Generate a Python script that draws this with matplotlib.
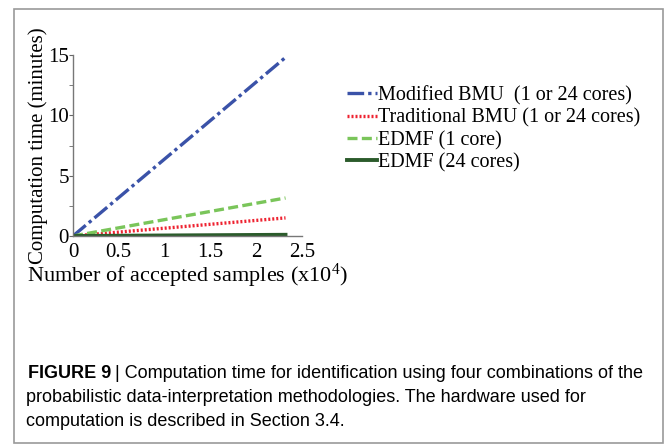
import numpy as np
import matplotlib
matplotlib.use("Agg")
from matplotlib import pyplot as plt
from matplotlib.patches import Rectangle

plt.rcParams['font.family'] = ['Liberation Serif', 'DejaVu Serif']
plt.rcParams['mathtext.fontset'] = 'custom'
plt.rcParams['mathtext.rm'] = 'Liberation Serif'
plt.rcParams['mathtext.it'] = 'Liberation Serif'

# samples (x10^4) and computation time (minutes)
samples = [0, 2.32]
modified_bmu = [0, 14.8]
traditional_bmu = [0, 1.5]
edmf_1 = [0, 3.15]
edmf_24 = [0, 0.1]

labels = ['Modified BMU  (1 or 24 cores)', 'Traditional BMU (1 or 24 cores)',
          'EDMF (1 core)', 'EDMF (24 cores)']

fig = plt.figure(figsize=(6.68, 4.46), dpi=100)

# outer frame
fig.patches.append(Rectangle((14/668, 3/446), 649/668, 434/446, transform=fig.transFigure,
                             fill=False, edgecolor='#9a9a9a', linewidth=1.2))

ax = fig.add_axes([73/668, 1-236/446, 229/668, 181/446])

h1, = ax.plot(samples, modified_bmu, color='#3a52a8', lw=2.4, linestyle=(0, (5, 1.2, 1, 1.2)))
h2, = ax.plot(samples, traditional_bmu, color='#ee2230', lw=2.4, linestyle=(0, (0.6, 0.6)))
h3, = ax.plot(samples, edmf_1, color='#7ac55a', lw=2.4, linestyle=(0, (3, 1.3)))
h4, = ax.plot(samples, edmf_24, color='#2b5b2b', lw=2.8, linestyle='-')

ax.set_xlim(0, 2.5)
ax.set_ylim(0, 15)
ax.set_xticks([0, 0.5, 1, 1.5, 2, 2.5])
ax.set_xticklabels(['0', '0.5', '1', '1.5', '2', '2.5'])
ax.set_yticks([0, 5, 10, 15])
ax.set_yticks([2.5, 7.5, 12.5], minor=True)
ax.tick_params(axis='y', which='both', direction='out', length=3, color='#666666',
               labelsize=15, pad=0)
ax.tick_params(axis='x', length=0, labelsize=15, pad=5)
for s in ['top', 'right']:
    ax.spines[s].set_visible(False)
for s in ['left', 'bottom']:
    ax.spines[s].set_color('#777777')
    ax.spines[s].set_linewidth(1.0)
ax.patch.set_alpha(0)

ax.set_ylabel('Computation time (minutes)', fontsize=15)
ax.yaxis.set_label_coords(-25/229, 0.5)
fig.text(27/668, 1-276/446, 'Number of accepted samples (x10$^{4}$)', fontsize=16,
         ha='left', va='center')

fig.legend([h1, h2, h3, h4], labels, loc='upper left',
           bbox_to_anchor=(339/668, 1-78/446), frameon=False, fontsize=14.5,
           handlelength=1.5, handletextpad=0.05, labelspacing=0.15, borderaxespad=0)

# caption
bold = fig.text(28/668, 1-373/446, 'FIGURE 9', fontsize=13, va='center', ha='left',
                family='Liberation Sans', weight='bold')
r = fig.canvas.get_renderer()
bx = bold.get_window_extent(r).x1
cap = ['| Computation time for identification using four combinations of the',
       'probabilistic data-interpretation methodologies. The hardware used for',
       'computation is described in Section 3.4.']
fig.text((bx + 4)/668, 1-373/446, cap[0], fontsize=13, va='center', ha='left', family='Liberation Sans')
fig.text(26/668, 1-397/446, cap[1], fontsize=13, va='center', ha='left', family='Liberation Sans')
fig.text(26/668, 1-421/446, cap[2], fontsize=13, va='center', ha='left', family='Liberation Sans')

fig.savefig('out.png', dpi=100)
